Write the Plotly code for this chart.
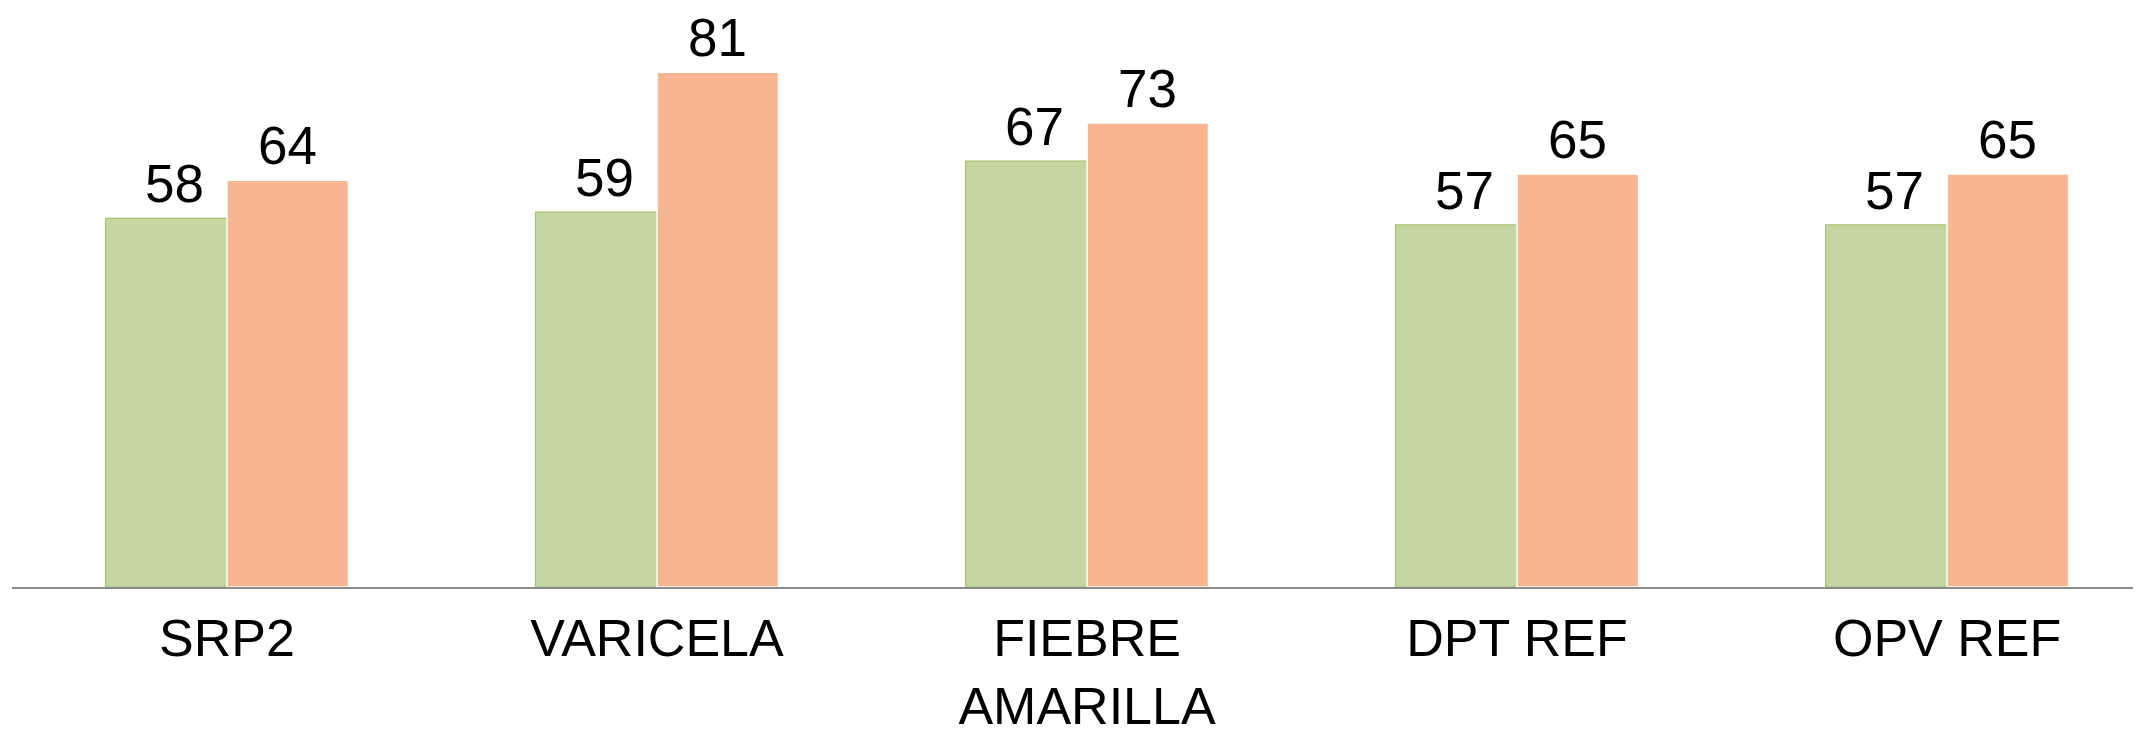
import plotly.graph_objects as go

categories = ["SRP2", "VARICELA", "FIEBRE<br>AMARILLA", "DPT REF", "OPV REF"]
series_a = [58, 59, 67, 57, 57]
series_b = [64, 81, 73, 65, 65]

green = "#C4D7A3"
green_line = "#A3C26C"
orange = "#F8B592"
font_family = "Liberation Sans, Arial, sans-serif"

fig = go.Figure()
fig.add_trace(go.Bar(x=categories, y=series_a, marker=dict(color=green, line=dict(color=green_line, width=1.2)),
                     showlegend=False, hoverinfo="skip"))
fig.add_trace(go.Bar(x=categories, y=series_b, marker=dict(color=orange, line=dict(color="#FFFFFF", width=1.5)),
                     showlegend=False, hoverinfo="skip"))

offset = 0.1413
annotations = []
for i, (a, b) in enumerate(zip(series_a, series_b)):
    annotations.append(dict(x=i - offset, y=a, xref="x", yref="y", text=str(a), showarrow=False,
                            yanchor="bottom", xanchor="center", yshift=3, xshift=8,
                            font=dict(family=font_family, size=53, color="#000000")))
    annotations.append(dict(x=i + offset, y=b, xref="x", yref="y", text=str(b), showarrow=False,
                            yanchor="bottom", xanchor="center", yshift=3,
                            font=dict(family=font_family, size=53, color="#000000")))

fig.update_layout(
    width=2141, height=732,
    margin=dict(l=4, r=8, t=0, b=153, autoexpand=False),
    paper_bgcolor="white", plot_bgcolor="white",
    barmode="group", bargap=0.435, bargroupgap=0,
    annotations=annotations,
    font=dict(family=font_family, color="#000000"),
)
fig.update_xaxes(range=[-0.5, 4.451], showline=True, linecolor="#8C8C8C", linewidth=2,
                 showgrid=False, zeroline=False, ticks="", automargin=False,
                 tickfont=dict(family=font_family, size=52, color="#000000"),
                 ticklabelstandoff=5)
fig.update_yaxes(range=[0, 91.1], visible=False, showgrid=False, zeroline=False, automargin=False)

fig.write_html("out.html")
